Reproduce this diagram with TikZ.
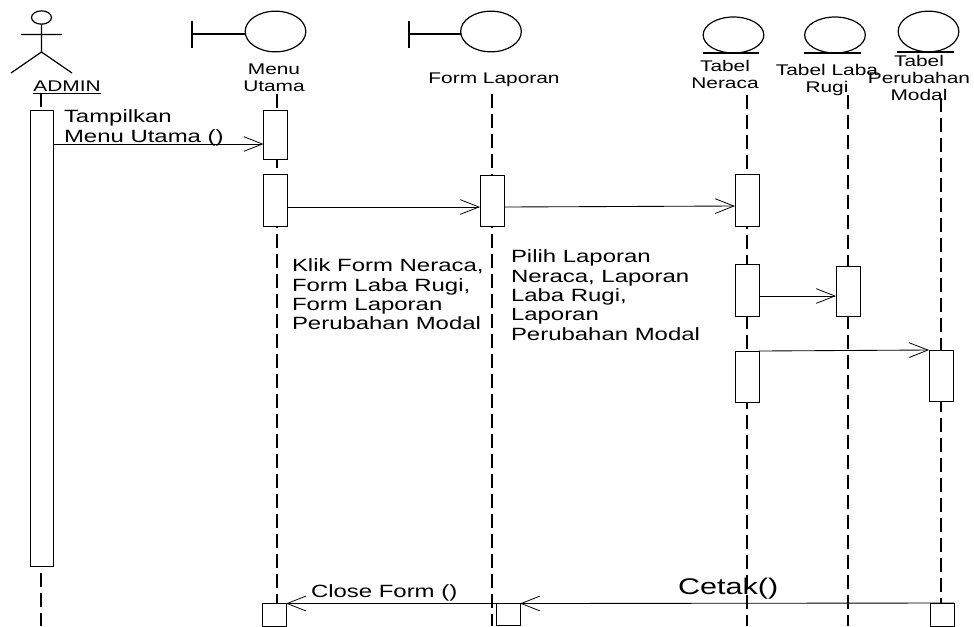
\documentclass[tikz,border=0pt]{standalone}
\usepackage{fontspec}
\usetikzlibrary{arrows.meta,shapes.geometric}
\newfontfamily\lblfont[FakeStretch=1.35]{Liberation Sans}
\tikzset{
  x=0.75pt,y=-0.75pt,
  every node/.style={inner sep=0pt,outer sep=0pt},
  life/.style={line width=1pt,dash pattern=on 10.5pt off 4.5pt},
  act/.style={draw=black,fill=white,line width=0.75pt,minimum width=18pt},
  msg/.style={line width=0.65pt,draw=black,-{Straight Barb[length=14pt,width=11pt,line width=0.6pt]}},
  fig/.style={line width=0.9pt},
  ball/.style={draw=black,line width=0.9pt,minimum width=45.5pt,minimum height=30.5pt,shape=ellipse},
  ballB/.style={ball,minimum height=27pt},
  lblA/.style={font=\lblfont\fontsize{13.3pt}{14.5pt}\selectfont,align=left,anchor=north west},
  lblB/.style={font=\lblfont\fontsize{11.6pt}{12.75pt}\selectfont,align=center,anchor=north},
}
\begin{document}
\begin{tikzpicture}
\useasboundingbox (0,0) rectangle (974,626);
% actor
\node[draw,ellipse,line width=0.9pt,minimum width=15pt,minimum height=10pt] (head) at (41.5,17.5) {};
\coordinate (neck) at (41.5,52);
\coordinate (armL) at (21,34.5);
\coordinate (armR) at (62,34.5);
\coordinate (footL) at (11,73);
\coordinate (footR) at (72,73);
\draw[fig] (head.south) -- (neck) (armL) -- (armR) (footL) -- (neck) -- (footR);
% boundary and entity symbols
\node[ball] (bM) at (275.5,31.5) {};
\coordinate (bMb) at (192,34);
\draw[fig] (bM.west |- bMb) -- (bMb);
\coordinate (bMt) at (192,21); \coordinate (bMd) at (192,48);
\draw[fig] (bMt) -- (bMd);
\node[ball] (bF) at (491,31.5) {};
\coordinate (bFb) at (409,34);
\draw[fig] (bF.west |- bFb) -- (bFb);
\coordinate (bFt) at (409,21); \coordinate (bFd) at (409,48);
\draw[fig] (bFt) -- (bFd);
\node[ballB] (eN) at (733.5,35) {};
\coordinate (eN1) at (703,53); \coordinate (eN2) at (759,53);
\draw[fig] (eN1) -- (eN2);
\node[ballB] (eL) at (835,35) {};
\coordinate (eL1) at (804,53); \coordinate (eL2) at (861,53);
\draw[fig] (eL1) -- (eL2);
\node[ball] (eM) at (928.5,31.5) {};
\coordinate (eM1) at (897,52); \coordinate (eM2) at (954,52);
\draw[fig] (eM1) -- (eM2);
% lifelines
\coordinate (t0) at (41,93);  \coordinate (e0) at (41,626);
\coordinate (t1) at (277,94); \coordinate (e1) at (277,626);
\coordinate (t2) at (492,94); \coordinate (e2) at (492,626);
\coordinate (t3) at (747,95); \coordinate (e3) at (747,626);
\coordinate (t4) at (848,95); \coordinate (e4) at (848,626);
\coordinate (t5) at (941,98); \coordinate (e5) at (941,626);
\foreach \i in {0,...,5} \draw[life] (t\i) -- (e\i);
% activations
\newcommand{\actbox}[5]{\node[act,minimum width=#4*0.75pt,minimum height=#5*0.75pt] (#1) at (#2,#3) {};}
\actbox{a0}{41.5}{338}{23}{456}
\actbox{m1}{275.5}{134.5}{24}{49}
\actbox{m2}{275.5}{200}{24}{52}
\actbox{f1}{492}{200.5}{24}{51}
\actbox{n1}{747}{200}{24}{52}
\actbox{n2}{747}{290}{24}{52}
\actbox{n3}{747}{376.5}{24}{51}
\actbox{l1}{848}{291}{24}{50}
\actbox{p1}{941}{375.5}{24}{51}
\actbox{m3}{274}{615}{24}{23}
\actbox{f3}{508}{614.5}{24}{22}
\actbox{p3}{942}{614.5}{24}{23}
% messages
\draw[msg] (a0.east |- 0,144) -- (m1.west |- 0,144);
\draw[msg] (m2.east |- 0,207) -- (f1.west |- 0,207);
\draw[msg] (f1.east |- 0,207) -- (n1.west |- 0,206);
\draw[msg] (n2.east |- 0,296) -- (l1.west |- 0,296);
\draw[msg] (n3.east |- 0,351) -- (p1.west |- 0,350);
\draw[msg] (f3.north) -- (m3.north east);
\draw[msg] (p3.north east) -- (f3.north east);
% labels
\node[font=\lblfont\fontsize{11.6pt}{12.5pt}\selectfont,anchor=base] (tA) at (67,91) {\underline{ADMIN}};
\node[lblB] (tM) at (274,64) {Menu\\Utama};
\node[lblB] (tF) at (494,73) {Form Laporan};
\node[lblB] (tN) at (725,60) {Tabel\\Neraca};
\node[lblB] (tL) at (827,64) {Tabel Laba\\Rugi};
\node[lblB] (tP) at (919,55) {Tabel\\Perubahan\\Modal};
\node[lblA] (c1) at (64,110) {Tampilkan\\Menu Utama ()};
\node[lblA] (c2) at (292,259) {Klik Form Neraca,\\Form Laba Rugi,\\Form Laporan\\Perubahan Modal};
\node[lblA] (c3) at (511,250) {Pilih Laporan\\Neraca, Laporan\\Laba Rugi,\\Laporan\\Perubahan Modal};
\node[lblA] (c4) at (311,585) {Close Form ()};
\node[font=\lblfont\fontsize{17pt}{20pt}\selectfont,anchor=north west] (c5) at (678,578) {Cetak()};
\end{tikzpicture}
\end{document}
